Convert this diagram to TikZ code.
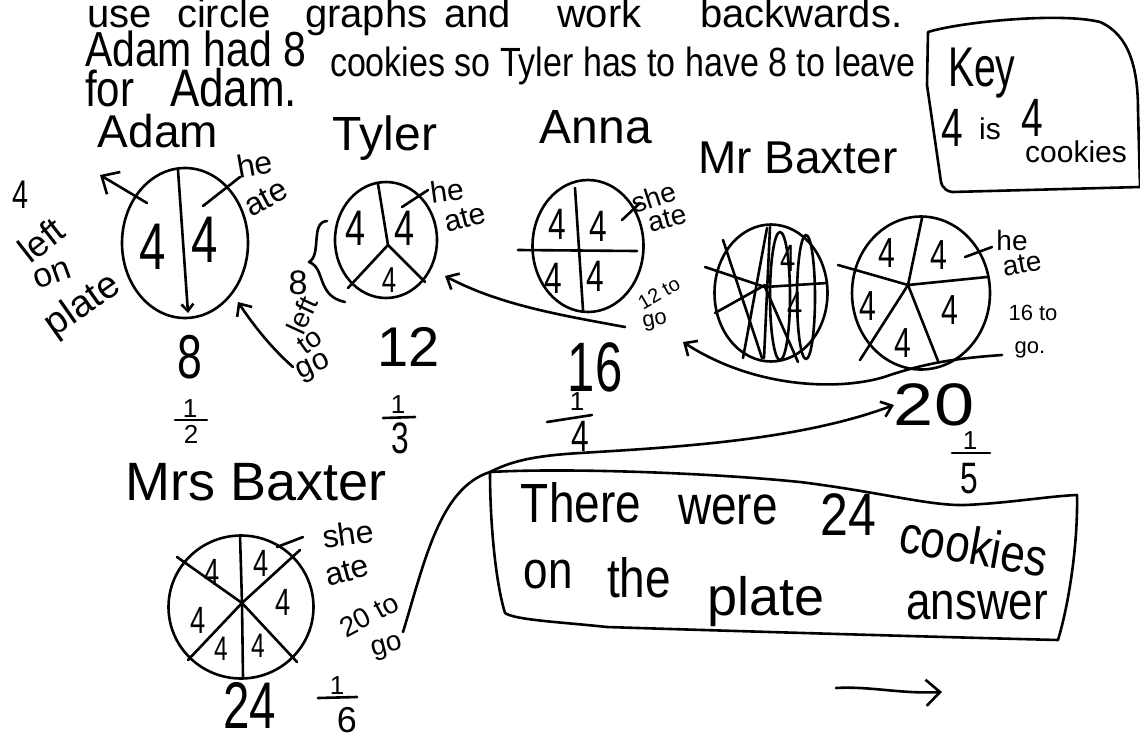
\documentclass[tikz,border=0pt]{standalone}
\usepackage{fontspec}
\setmainfont{Liberation Sans}
\usepackage{graphicx}
\usetikzlibrary{shapes.geometric,arrows.meta}
\tikzset{
  pen/.style={line width=2.6pt,line cap=round,line join=round},
  hw/.style={inner sep=0pt,outer sep=0pt,font=\fontsize{#1pt}{#1pt}\selectfont},
  pie/.style={ellipse,draw,pen,inner sep=0pt},
  barb/.style={-{Straight Barb[length=10pt,width=18pt]}},
}
\newcommand{\nar}[1]{\scalebox{0.72}[1]{#1}}
\newcommand{\tall}[1]{\scalebox{1}[1.2]{#1}}
\begin{document}
\begin{tikzpicture}[x=1pt,y=-1pt]
\useasboundingbox (0,0) rectangle (1140,742);
\fill[white] (0,0) rectangle (1140,742);

% ---------- top text ----------
\node[hw=40,anchor=base west] (t1a) at (87,27) {use};
\node[hw=40,anchor=base west] (t1b) at (177,27) {circle};
\node[hw=40,anchor=base west] (t1c) at (305,27) {graphs};
\node[hw=40,anchor=base west] (t1d) at (444,27) {and};
\node[hw=40,anchor=base west] (t1e) at (557,27) {work};
\node[hw=40,anchor=base west] (t1f) at (700,27) {backwards.};
\node[hw=41,anchor=base west] (t2a) at (85,66) {\tall{Adam had 8}};
\node[hw=34,anchor=base west] (t2b) at (330,76) {\tall{cookies so Tyler has to have 8 to leave}};
\node[hw=42,anchor=base west] (t3a) at (85,106) {\tall{for}};
\node[hw=44,anchor=base west] (t3b) at (170,106) {\tall{Adam.}};

% ---------- key ----------
\draw[pen] (928,32) .. controls (960,22) and (1060,12) .. (1100,22) .. controls (1130,35) and (1138,70) .. (1138,110) -- (1140,187) -- (952,192) .. controls (942,190) and (941,184) .. (940,175) -- (927,85) -- cycle;
\node[hw=56,anchor=base west] (key) at (948,86) {\scalebox{0.7}[1]{Key}};
\node[hw=54] (k4a) at (952,128) {\nar{4}};
\node[hw=30] (kis) at (990,129) {is};
\node[hw=54] (k4b) at (1032,118) {\nar{4}};
\node[hw=30] (kck) at (1076,152) {cookies};

% ---------- names ----------
\node[hw=46,anchor=base] (nadam) at (158,147) {Adam};
\node[hw=48,anchor=base] (ntyler) at (385,150) {Tyler};
\node[hw=48,anchor=base] (nanna) at (596,143) {Anna};
\node[hw=46,anchor=base] (nmrb) at (798,173) {Mr Baxter};
\node[hw=54,anchor=base] (nmrsb) at (256,500) {Mrs Baxter};

% ---------- Adam ----------
\node[pie,minimum width=126pt,minimum height=150pt] (adampie) at (185,243) {};
\draw[pen,-{Straight Barb[length=7pt,width=12pt]}] (178,170) -- (188,313);
\node[hw=66] (a4l) at (153,247) {\nar{4}};
\node[hw=66] (a4r) at (205,240) {\nar{4}};
\draw[pen] (203,206) -- (240,177);
\node[hw=32,rotate=10] (ahe) at (255,164) {he};
\node[hw=32,rotate=28] (aate) at (266,198) {ate};
\coordinate (adamL) at (147,203);
\coordinate (adamLtip) at (100,175);
\draw[pen,-{Straight Barb[length=14pt,width=26pt]}] (adamL) -- (adamLtip);
\node[hw=40] (l4) at (21,195) {\nar{4}};
\node[hw=36,rotate=38] (lleft) at (41,240) {left};
\node[hw=34,rotate=20] (lon) at (52,275) {on};
\node[hw=38,rotate=35] (lplate) at (83,306) {plate};
\node[hw=62] (n8) at (190,357) {\nar{8}};
\node[hw=26] (f2a) at (190,409) {1};
\draw[pen] (175,420) -- (207,420);
\node[hw=26] (f2b) at (191,434) {2};

% 8 left to go
\node[hw=34] (g8) at (298,283) {8};
\node[hw=28,rotate=65] (gleft) at (302,315) {left};
\node[hw=28,rotate=35] (gto) at (310,341) {to};
\node[hw=30,rotate=25] (ggo) at (314,368) {go};
\coordinate (gstart) at (293,367);
\coordinate (gtip) at (238,302);
\draw[pen,barb] (gstart) .. controls (268,345) and (250,320) .. (gtip);

% ---------- Tyler ----------
\node[pie,minimum width=102pt,minimum height=116pt] (tylerpie) at (386,240) {};
\coordinate (thub) at (388,245);
\draw[pen] (378,184) -- (thub) -- (348,288);
\draw[pen] (thub) -- (425,282);
\node[hw=50] (ty4a) at (356,228) {\nar{4}};
\node[hw=50] (ty4b) at (405,228) {\nar{4}};
\node[hw=36] (ty4c) at (389,280) {\nar{4}};
\draw[pen] (402,207) -- (428,190);
\node[hw=30,rotate=8] (the) at (447,191) {he};
\node[hw=30,rotate=15] (tate) at (465,218) {ate};
\draw[pen] (327,221) .. controls (310,222) and (322,255) .. (309,262) .. controls (326,268) and (316,296) .. (345,302);
\node[hw=56] (n12) at (409,347) {12};
\node[hw=26] (f3a) at (398,405) {1};
\draw[pen] (383,418) -- (415,417);
\node[hw=44] (f3b) at (400,438) {\nar{3}};

% ---------- Anna ----------
\node[pie,minimum width=111pt,minimum height=132pt] (annapie) at (588,246) {};
\draw[pen] (518,250) -- (637,251);
\draw[pen] (575,188) -- (583,310);
\node[hw=44] (an4a) at (557,224) {\nar{4}};
\node[hw=44] (an4b) at (598,226) {\nar{4}};
\node[hw=44] (an4c) at (553,278) {\nar{4}};
\node[hw=44] (an4d) at (595,276) {\nar{4}};
\draw[pen] (622,220) -- (640,203);
\node[hw=28,rotate=18] (ashe) at (654,197) {she};
\node[hw=28,rotate=15] (aate2) at (667,219) {ate};
\node[hw=20,rotate=30] (a12) at (659,293) {12 to};
\node[hw=22,rotate=10] (ago) at (655,322) {go};
\coordinate (annaArr) at (625,327);
\coordinate (tyTip) at (445,276);
\draw[pen,barb] (annaArr) .. controls (560,315) and (500,305) .. (tyTip);
\node[hw=70] (n16) at (595,367) {\scalebox{0.7}[1]{16}};
\node[hw=26] (f4a) at (577,402) {1};
\draw[pen] (547,422) -- (592,415);
\node[hw=44] (f4b) at (580,436) {\nar{4}};

% ---------- Mr Baxter ----------
\node[pie,minimum width=113pt,minimum height=137pt] (mrbx) at (771,293) {};
\draw[pen] (705,267) -- (765,287) -- (827,283);
\draw[pen] (723,240) -- (762,358);
\draw[pen] (715,313) -- (765,285);
\draw[pen] (743,358) -- (767,228);
\draw[pen] (770,227) -- (764,358);
\draw[pen] (765,287) -- (798,362);
\draw[pen] (780,296) ellipse [x radius=10pt, y radius=64pt];
\draw[pen] (806,297) ellipse [x radius=9pt, y radius=62pt];
\node[hw=38] (mx4a) at (788,258) {\nar{4}};
\node[hw=38] (mx4b) at (795,305) {\nar{4}};

\node[pie,minimum width=138pt,minimum height=153pt] (mrbpie) at (921,293) {};
\coordinate (mhub) at (908,285);
\draw[pen] (922,218) -- (mhub) -- (838,265);
\draw[pen] (mhub) -- (987,277);
\draw[pen] (mhub) -- (860,360);
\draw[pen] (mhub) -- (938,361);
\node[hw=42] (m4a) at (887,253) {\nar{4}};
\node[hw=42] (m4b) at (939,255) {\nar{4}};
\node[hw=42] (m4c) at (868,306) {\nar{4}};
\node[hw=42] (m4d) at (950,310) {\nar{4}};
\node[hw=42] (m4e) at (903,343) {\nar{4}};
\draw[pen] (965,257) -- (992,247);
\node[hw=28] (mhe) at (1012,240) {he};
\node[hw=28,rotate=10] (mate) at (1022,264) {ate};
\node[hw=22] (m16) at (1033,313) {16 to};
\node[hw=22] (mgo) at (1030,350) {go.};
\coordinate (mStart) at (1002,355);
\coordinate (annaTip) at (683,342);
\draw[pen,barb] (mStart) .. controls (960,358) and (930,362) .. (890,375) .. controls (850,390) and (760,392) .. (annaTip);
\node[hw=60] (n20) at (934,405) {\scalebox{1.2}[1]{20}};
\node[hw=26] (f5a) at (970,441) {1};
\draw[pen] (952,453) -- (990,453);
\node[hw=44] (f5b) at (969,479) {\nar{5}};

% ---------- Mrs Baxter ----------
\node[pie,minimum width=145pt,minimum height=143pt] (mrspie) at (241,607) {};
\coordinate (shub) at (242,603);
\draw[pen] (240,535) -- (shub) -- (243,678);
\draw[pen] (177,557) -- (shub) -- (297,662);
\draw[pen] (300,550) -- (shub) -- (188,660);
\node[hw=38] (s4a) at (212,572) {\nar{4}};
\node[hw=38] (s4b) at (261,563) {\nar{4}};
\node[hw=38] (s4c) at (283,602) {\nar{4}};
\node[hw=38] (s4d) at (198,620) {\nar{4}};
\node[hw=34] (s4e) at (221,649) {\nar{4}};
\node[hw=34] (s4f) at (258,646) {\nar{4}};
\draw[pen] (277,547) -- (303,537);
\node[hw=32,rotate=8] (sshe) at (348,534) {she};
\node[hw=32,rotate=15] (sate) at (347,571) {ate};
\node[hw=28,rotate=28] (s20) at (369,615) {20 to};
\node[hw=28,rotate=15] (sgo) at (387,648) {go};
\node[hw=66] (n24) at (250,705) {\nar{24}};
\node[hw=26] (f6a) at (337,686) {1};
\draw[pen] (318,698) -- (357,697);
\node[hw=36] (f6b) at (347,720) {6};

% ---------- answer ----------
\coordinate (boxTL) at (490,472);
\draw[pen] (boxTL) .. controls (560,468) and (700,472) .. (800,482) .. controls (880,492) and (930,506) .. (965,505) .. controls (1010,503) and (1050,496) .. (1077,495) .. controls (1078,540) and (1070,600) .. (1058,640) .. controls (900,636) and (700,630) .. (607,627) .. controls (560,622) and (515,620) .. (505,613) .. controls (495,580) and (490,520) .. cycle;
\coordinate (sStart) at (403,632);
\coordinate (bend) at (580,453);
\draw[pen,-{Straight Barb[length=10pt,width=16pt]}] (sStart) .. controls (425,560) and (440,488) .. (boxTL) .. controls (510,462) and (530,456) .. (bend) .. controls (680,447) and (800,440) .. (n20.west);
\node[hw=46] (x1) at (581,503) {\tall{There}};
\node[hw=46] (x2) at (728,510) {\tall{were}};
\node[hw=50] (x3) at (848,515) {\tall{24}};
\node[hw=44,rotate=-10] (x4) at (974,546) {\tall{cookies}};
\node[hw=44] (x5) at (548,575) {\tall{on}};
\node[hw=46] (x6) at (639,578) {\tall{the}};
\node[hw=54] (x7) at (766,602) {plate};
\node[hw=44] (x8) at (977,606) {\tall{answer}};

\coordinate (ba1) at (836,688);
\coordinate (ba2) at (942,692);
\draw[pen,-{Straight Barb[length=14pt,width=26pt]}] (ba1) .. controls (870,686) and (900,694) .. (ba2);
\end{tikzpicture}
\end{document}
